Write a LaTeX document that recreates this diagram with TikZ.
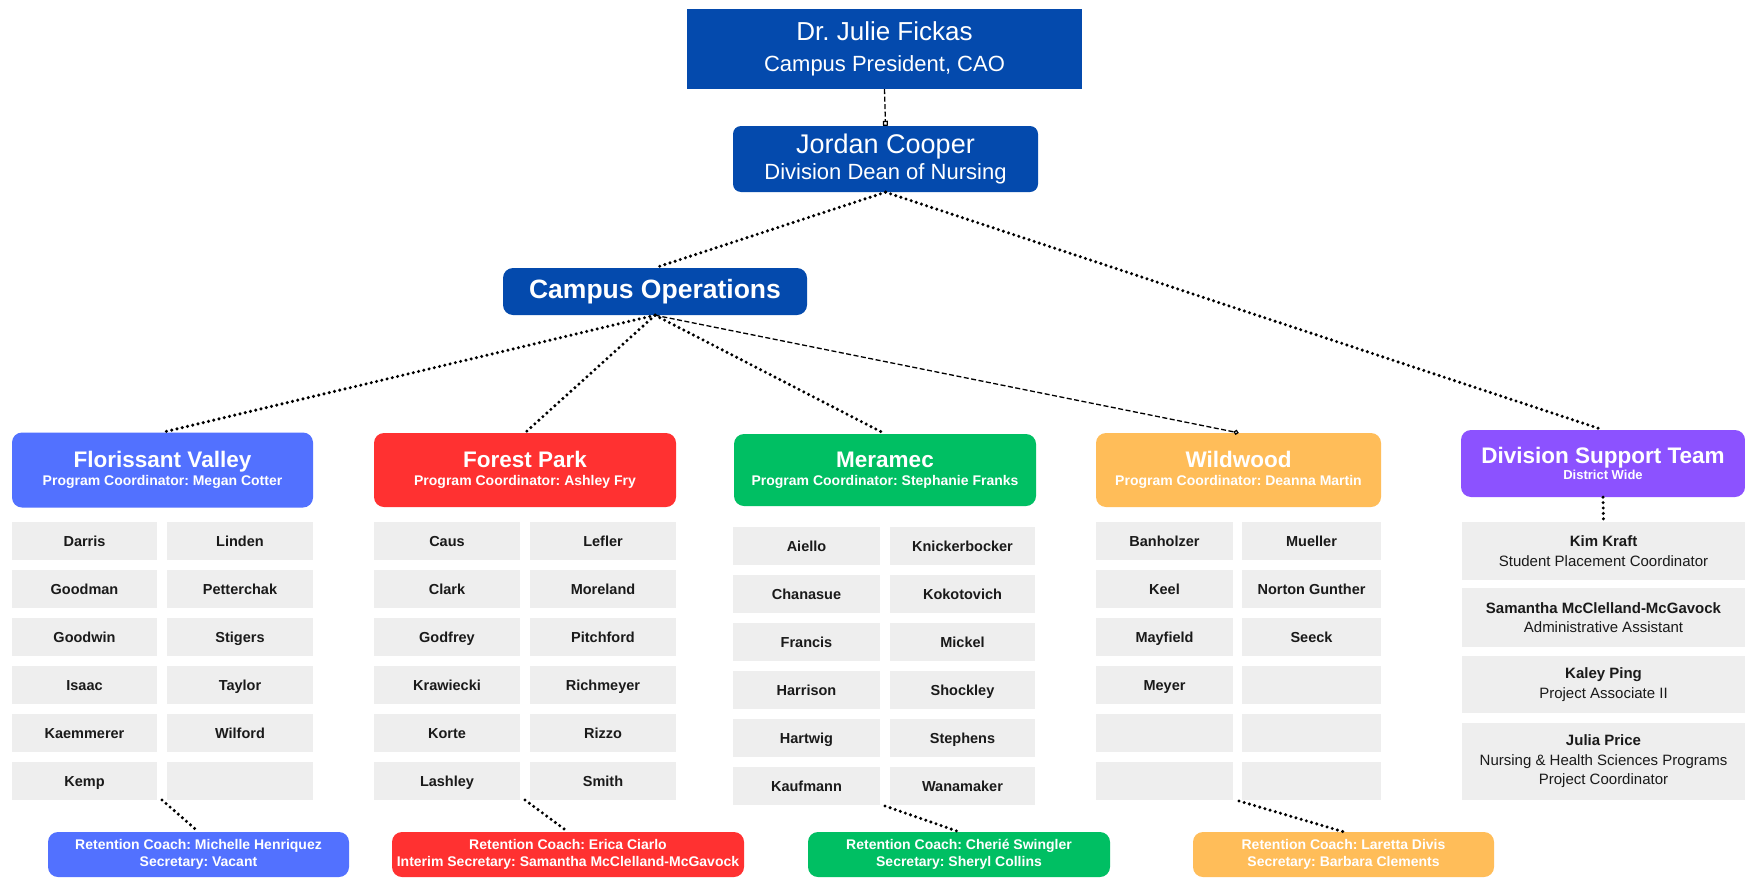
\documentclass[tikz,border=0pt]{standalone}
\usepackage{fontspec}
\setmainfont{Liberation Sans}
\usetikzlibrary{arrows.meta}
\definecolor{darkblue}{RGB}{4,74,173}
\definecolor{fvblue}{RGB}{82,113,255}
\definecolor{fpred}{RGB}{255,49,49}
\definecolor{mgreen}{RGB}{0,191,99}
\definecolor{worange}{RGB}{255,189,89}
\definecolor{dpurple}{RGB}{140,82,255}
\definecolor{cellgray}{RGB}{238,238,238}
\definecolor{celltext}{RGB}{26,26,26}
\frenchspacing
\begin{document}
\frenchspacing
\begin{tikzpicture}[x=1pt,y=-1pt,
  box/.style={inner sep=0pt, align=center, text=white},
  hdr/.style={box, rounded corners=10pt, font=\bfseries\fontsize{14}{18}\selectfont},
  ret/.style={box, rounded corners=10pt, minimum height=45pt, font=\bfseries\fontsize{14}{17}\selectfont},
  cell/.style={fill=cellgray, inner sep=0pt, minimum height=38pt, text height=10.4pt, text depth=0pt, text=celltext, font=\bfseries\fontsize{14.5}{17}\selectfont},
  dcell/.style={fill=cellgray, inner sep=0pt, align=center, minimum width=283pt, text=celltext, font=\fontsize{15}{19.5}\selectfont},
  dotline/.style={line width=3.4pt, line cap=round, dash pattern=on 0pt off 5.4pt},
  dashthin/.style={line width=1.3pt, dash pattern=on 5pt off 2.5pt}
]
\path[fill=white] (0,0) rectangle (1745,878);
\useasboundingbox (0,0) rectangle (1745,878);

% top
\node[box, fill=darkblue, minimum width=395pt, minimum height=80pt, font=\fontsize{22}{31}\selectfont] (pres) at (884.5,49)
  {{\fontsize{26}{26}\selectfont Dr. Julie Fickas}\\Campus President, CAO};
\node[box, fill=darkblue, rounded corners=8pt, minimum width=305pt, minimum height=66pt, font=\fontsize{22}{26}\selectfont] (dean) at (885.5,159)
  {{\fontsize{27}{27}\selectfont Jordan Cooper}\\Division Dean of Nursing};
\node[box, fill=darkblue, rounded corners=10pt, minimum width=304pt, minimum height=47pt, font=\bfseries\fontsize{26.5}{30}\selectfont] (ops) at (655,291.5)
  {Campus Operations};

% headers
\node[hdr, fill=fvblue, minimum width=301pt, minimum height=75pt] (fv) at (162.5,470)
  {{\fontsize{22.5}{22.5}\selectfont Florissant Valley}\\Program Coordinator: Megan Cotter};
\node[hdr, fill=fpred, minimum width=302pt, minimum height=74pt] (fp) at (525,470)
  {{\fontsize{22.5}{22.5}\selectfont Forest Park}\\Program Coordinator: Ashley Fry};
\node[hdr, fill=mgreen, minimum width=302pt, minimum height=72pt] (mer) at (885,470)
  {{\fontsize{22.5}{22.5}\selectfont Meramec}\\Program Coordinator: Stephanie Franks};
\node[hdr, fill=worange, minimum width=285pt, minimum height=74pt] (ww) at (1238.5,470)
  {{\fontsize{22.5}{22.5}\selectfont Wildwood}\\Program Coordinator: Deanna Martin};
\node[hdr, fill=dpurple, minimum width=284pt, minimum height=67pt, font=\bfseries\fontsize{13}{16}\selectfont] (dst) at (1603,463.5)
  {{\fontsize{22.5}{22.5}\selectfont Division Support Team}\\District Wide};

% cells
\foreach \n [count=\i] in {Darris,Goodman,Goodwin,Isaac,Kaemmerer,Kemp}
  \node[cell, minimum width=145pt] (fva\i) at (84.5,{541+48*(\i-1)}) {\n};
\foreach \n [count=\i] in {Linden,Petterchak,Stigers,Taylor,Wilford,{}}
  \node[cell, minimum width=146pt] (fvb\i) at (240,{541+48*(\i-1)}) {\n};
\foreach \n [count=\i] in {Caus,Clark,Godfrey,Krawiecki,Korte,Lashley}
  \node[cell, minimum width=146pt] (fpa\i) at (447,{541+48*(\i-1)}) {\n};
\foreach \n [count=\i] in {Lefler,Moreland,Pitchford,Richmeyer,Rizzo,Smith}
  \node[cell, minimum width=146pt] (fpb\i) at (603,{541+48*(\i-1)}) {\n};
\foreach \n [count=\i] in {Aiello,Chanasue,Francis,Harrison,Hartwig,Kaufmann}
  \node[cell, minimum width=147pt] (mea\i) at (806.5,{546+48*(\i-1)}) {\n};
\foreach \n [count=\i] in {Knickerbocker,Kokotovich,Mickel,Shockley,Stephens,Wanamaker}
  \node[cell, minimum width=145pt] (meb\i) at (962.5,{546+48*(\i-1)}) {\n};
\foreach \n [count=\i] in {Banholzer,Keel,Mayfield,Meyer,{},{}}
  \node[cell, minimum width=137pt] (wwa\i) at (1164.5,{541+48*(\i-1)}) {\n};
\foreach \n [count=\i] in {Mueller,Norton Gunther,Seeck,{},{},{}}
  \node[cell, minimum width=139pt] (wwb\i) at (1311.5,{541+48*(\i-1)}) {\n};

% division support cells
\node[dcell, minimum height=58pt] (kim) at (1603.5,551) {\textbf{Kim Kraft}\\Student Placement Coordinator};
\node[dcell, minimum height=59pt] (sam) at (1603.5,617.5) {\textbf{Samantha McClelland-McGavock}\\Administrative Assistant};
\node[dcell, minimum height=57pt] (kal) at (1603.5,684.5) {\textbf{Kaley Ping}\\Project Associate II};
\node[dcell, minimum height=77pt] (jul) at (1603.5,761.5) {\textbf{Julia Price}\\Nursing \& Health Sciences Programs\\Project Coordinator};

% retention boxes
\node[ret, fill=fvblue, minimum width=301pt] (fvr) at (198.5,854.5) {Retention Coach: Michelle Henriquez\\Secretary: Vacant};
\node[ret, fill=fpred, minimum width=352pt] (fpr) at (568,854.5) {Retention Coach: Erica Ciarlo\\Interim Secretary: Samantha McClelland-McGavock};
\node[ret, fill=mgreen, minimum width=302pt] (mer-r) at (959,854.5) {Retention Coach: Cheri\'e Swingler\\Secretary: Sheryl Collins};
\node[ret, fill=worange, minimum width=301pt] (wwr) at (1343.5,854.5) {Retention Coach: Laretta Divis\\Secretary: Barbara Clements};

% gap coordinates
\coordinate (fvg) at (162,800);
\coordinate (fpg) at (525,800);
\coordinate (meg) at (885,806);
\coordinate (wwg) at (1239,801);

% connectors
\draw[dashthin, -{Square[open,length=5pt,width=5pt,line width=1.2pt]}] (pres.south) -- (dean.north);
\draw[dotline] (dean.south) -- (ops.north);
\draw[dotline] (dean.south) -- (dst.north);
\draw[dotline] (ops.south) -- (fv.north);
\draw[dotline] (ops.south) -- (fp.north);
\draw[dotline] (ops.south) -- (mer.north);
\draw[dashthin, -{Circle[open,length=5pt,line width=1.2pt]}] (ops.south) -- (ww.north);
\draw[dotline] (dst.south) -- (kim.north);
\draw[dotline] (fvg) -- (fvr.north);
\draw[dotline] (fpg) -- (fpr.north);
\draw[dotline] (meg) -- (mer-r.north);
\draw[dotline] (wwg) -- (wwr.north);
\end{tikzpicture}
\end{document}
